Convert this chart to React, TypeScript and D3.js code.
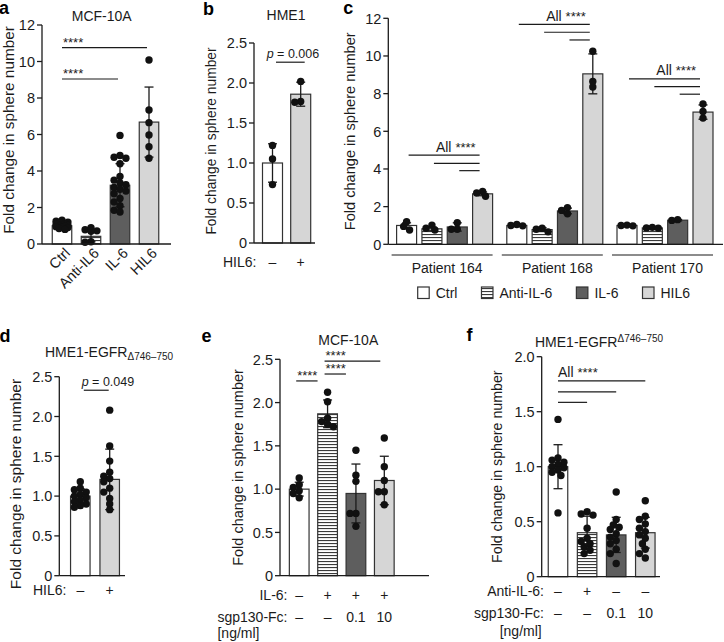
import React from "react";
import * as d3 from "d3";

const FONT = "'Liberation Sans', Arial, Helvetica, sans-serif";
const INK = "#1b1b1b";
const BAR_STROKE = "#333333";
const FILL: Record<string, string> = {
  white: "#ffffff",
  stripe: "url(#stripes)",
  dark: "#5e5e5e",
  light: "#d6d6d6",
};

// ---------- Panel a ----------
const aCategories = ["Ctrl", "Anti-IL6", "IL-6", "HIL6"];
const aFills = ["white", "stripe", "dark", "light"];
const aMeans = [1.0, 0.42, 3.22, 6.68];
const aSD = [0.15, 0.3, 1.18, 1.92];
const aPoints = [
  [1.3, 1.25, 1.2, 1.15, 1.1, 1.08, 1.05, 1.02, 1.0, 0.98, 0.95, 0.92, 0.9, 0.85, 0.8],
  [0.9, 0.78, 0.72, 0.7, 0.12, 0.1],
  [5.95, 4.85, 4.75, 4.7, 4.4, 3.7, 3.5, 3.35, 3.25, 3.1, 3.0, 2.9, 2.75, 2.5, 2.3, 2.1, 1.85, 1.75],
  [10.08, 7.34, 6.65, 5.97, 5.33, 4.7],
];
const aTicks = [0, 2, 4, 6, 8, 10, 12];
const aSig = [
  { from: 0, to: 3, y: 10.76, label: "****" },
  { from: 0, to: 2, y: 9.04, label: "****" },
];

// ---------- Panel b ----------
const bCategories = ["-", "+"];
const bFills = ["white", "light"];
const bMeans = [1.0, 1.86];
const bSD = [0.24, 0.15];
const bPoints = [
  [1.22, 1.05, 0.73],
  [2.02, 1.77, 1.76],
];
const bTicks = [0, 0.5, 1.0, 1.5, 2.0, 2.5];
const bRowValues = ["–", "+"];
const bP = { y: 2.26, text: "0.006" };

// ---------- Panel c ----------
const cGroups = ["Patient 164", "Patient 168", "Patient 170"];
const cSeries = ["Ctrl", "Anti-IL-6", "IL-6", "HIL6"];
const cFills = ["white", "stripe", "dark", "light"];
const cMeans = [
  [1.0, 0.82, 0.92, 2.68],
  [1.0, 0.78, 1.77, 9.05],
  [1.0, 0.87, 1.28, 7.02],
];
const cSD = [
  [0.14, 0.1, 0.22, 0.1],
  [0.05, 0.1, 0.15, 1.06],
  [0.03, 0.05, 0.04, 0.38],
];
const cPoints = [
  [[1.2, 0.95, 0.76], [1.02, 0.85, 0.76], [1.15, 0.8, 0.8], [2.8, 2.72, 2.55]],
  [[1.05, 1.0, 0.98], [0.85, 0.8, 0.66], [1.95, 1.8, 1.62], [10.25, 8.35, 8.65]],
  [[1.02, 1.0, 0.98], [0.9, 0.87, 0.85], [1.27, 1.31], [7.45, 6.7, 7.05]],
];
const cSigLevels = [
  [4.74, 4.3, 3.91],
  [11.68, 11.26, 10.85],
  [8.78, 8.37, 7.97],
];
const cTicks = [0, 2, 4, 6, 8, 10, 12];

// ---------- Panel d ----------
const dCategories = ["-", "+"];
const dFills = ["white", "light"];
const dMeans = [1.0, 1.21];
const dSD = [0.09, 0.38];
const dPoints = [
  [1.18, 1.1, 1.08, 1.05, 1.02, 1.0, 0.98, 0.95, 0.93, 0.9, 0.88, 0.86],
  [2.08, 1.63, 1.44, 1.3, 1.25, 1.22, 1.18, 1.1, 1.05, 0.97, 0.9, 0.83],
];
const dTicks = [0, 0.5, 1.0, 1.5, 2.0, 2.5];
const dRowValues = ["–", "+"];
const dP = { y: 2.33, text: "0.049" };

// ---------- Panel e ----------
const eCategories = ["c1", "c2", "c3", "c4"];
const eFills = ["white", "stripe", "dark", "light"];
const eMeans = [1.0, 1.87, 0.95, 1.1];
const eSD = [0.08, 0.16, 0.34, 0.28];
const ePoints = [
  [1.13, 1.05, 1.02, 0.98, 0.95, 0.9],
  [2.12, 2.01, 1.82, 1.78, 1.75, 1.72],
  [1.45, 1.16, 1.09, 0.72, 0.72, 0.57],
  [1.59, 1.26, 1.1, 0.97, 0.97, 0.82],
];
const eTicks = [0, 0.5, 1.0, 1.5, 2.0, 2.5];
const eSig = [
  { from: 1, to: 3, y: 2.48, label: "****" },
  { from: 1, to: 2, y: 2.33, label: "****" },
  { from: 0, to: 1, y: 2.25, label: "****" },
];
const eRowLabels = ["IL-6:", "sgp130-Fc:"];
const eRowValues = [
  ["–", "+", "+", "+"],
  ["–", "–", "0.1", "10"],
];

// ---------- Panel f ----------
const fCategories = ["c1", "c2", "c3", "c4"];
const fFills = ["white", "stripe", "dark", "light"];
const fMeans = [1.0, 0.4, 0.38, 0.4];
const fSD = [0.2, 0.15, 0.16, 0.14];
const fPoints = [
  [1.43, 1.08, 1.06, 1.04, 1.02, 1.0, 0.99, 0.97, 0.95, 0.92, 0.58],
  [0.59, 0.57, 0.56, 0.44, 0.35, 0.32, 0.3, 0.27, 0.24, 0.21],
  [0.77, 0.52, 0.47, 0.45, 0.43, 0.39, 0.36, 0.33, 0.3, 0.25, 0.21, 0.12],
  [0.69, 0.55, 0.52, 0.48, 0.44, 0.41, 0.38, 0.35, 0.3, 0.25, 0.21, 0.17],
];
const fTicks = [0, 0.5, 1.0, 1.5, 2.0];
const fSigLevels = [1.78, 1.68, 1.585];
const fRowLabels = ["Anti-IL-6:", "sgp130-Fc:"];
const fRowValues = [
  ["–", "+", "–", "–"],
  ["–", "–", "0.1", "10"],
];

const Y_TITLE = "Fold change in sphere number";
const R = 3.7;

function measure(text: string, size: number) {
  const ctx = document.createElement("canvas").getContext("2d");
  if (!ctx) return text.length * size * 0.55;
  ctx.font = `${size}px ${FONT}`;
  return ctx.measureText(text).width;
}

function swarm(values: number[], y: (v: number) => number, cx: number, half: number) {
  const order = values.map((_, i) => i).sort((a, b) => values[b] - values[a]);
  const placed: { x: number; y: number }[] = [];
  const out: { x: number; y: number }[] = new Array(values.length);
  const minD = R * 1.5;
  const step = R * 0.8;
  for (const i of order) {
    const py = y(values[i]);
    let best = cx;
    let bestD = -1;
    for (let k = 0; k < 14; k++) {
      const off = (k % 2 === 1 ? -1 : 1) * Math.ceil(k / 2) * step;
      if (Math.abs(off) > half) continue;
      const px = cx + off;
      let md = Infinity;
      for (const p of placed) md = Math.min(md, Math.hypot(p.x - px, p.y - py));
      if (md >= minD) {
        best = px;
        bestD = md;
        break;
      }
      if (md > bestD) {
        bestD = md;
        best = px;
      }
    }
    const pt = { x: best, y: py };
    placed.push(pt);
    out[i] = pt;
  }
  return out;
}

function YAxis({ x, y, ticks, fmt, fs = 14.5 }: any) {
  return (
    <g>
      <line x1={x} x2={x} y1={y(ticks[0])} y2={y(ticks[ticks.length - 1])} stroke={INK} strokeWidth={1.3} />
      {ticks.map((t: number) => (
        <g key={t}>
          <line x1={x - 5} x2={x} y1={y(t)} y2={y(t)} stroke={INK} strokeWidth={1.3} />
          <text x={x - 7} y={y(t)} dy="0.36em" textAnchor="end" fontSize={fs} fill={INK}>
            {fmt(t)}
          </text>
        </g>
      ))}
    </g>
  );
}

function XAxis({ x0, x1, y }: any) {
  return <line x1={x0} x2={x1} y1={y} y2={y} stroke={INK} strokeWidth={1.3} />;
}

function YTitle({ x, y, fs }: any) {
  return (
    <text transform={`translate(${x},${y}) rotate(-90)`} textAnchor="middle" fontSize={fs} fill={INK}>
      {Y_TITLE}
    </text>
  );
}

function Bars({ xs, y, means, sds, pts, fills, bw }: any) {
  const y0 = y(0);
  return (
    <g>
      {means.map((m: number, i: number) => (
        <rect
          key={"b" + i}
          x={xs[i] - bw / 2}
          y={y(m)}
          width={bw}
          height={y0 - y(m)}
          fill={FILL[fills[i]]}
          stroke={BAR_STROKE}
          strokeWidth={1.2}
        />
      ))}
      {means.map((m: number, i: number) => {
        const lo = Math.max(0, m - sds[i]);
        const hi = m + sds[i];
        return (
          <g key={"e" + i} stroke={INK} strokeWidth={1.3}>
            <line x1={xs[i]} x2={xs[i]} y1={y(lo)} y2={y(hi)} />
            <line x1={xs[i] - 4.5} x2={xs[i] + 4.5} y1={y(hi)} y2={y(hi)} />
            <line x1={xs[i] - 4.5} x2={xs[i] + 4.5} y1={y(lo)} y2={y(lo)} />
          </g>
        );
      })}
      {pts.map((vals: number[], i: number) =>
        swarm(vals, y, xs[i], bw / 2 - 1).map((p, j) => (
          <circle key={"p" + i + "_" + j} cx={p.x} cy={p.y} r={R} fill="#111" />
        ))
      )}
    </g>
  );
}

function Stars({ x, y, size = 13 }: any) {
  return (
    <text x={x} y={y} fontSize={size} fill={INK}>
      ****
    </text>
  );
}

const fmtInt = (t: number) => d3.format("d")(t);
const fmtDec = (t: number) => (t === 0 ? "0" : d3.format(".1f")(t));

export default function App() {
  // ----- a -----
  const ax = d3.scalePoint<string>().domain(aCategories).range([62, 149]);
  const ay = d3.scaleLinear().domain([0, 12]).range([244, 25]);
  const axs = aCategories.map((c) => ax(c) as number);

  // ----- b -----
  const bx = d3.scalePoint<string>().domain(bCategories).range([272.5, 300.7]);
  const by = d3.scaleLinear().domain([0, 2.5]).range([243, 43]);
  const bxs = bCategories.map((c) => bx(c) as number);

  // ----- c -----
  const cgx = d3.scalePoint<string>().domain(cGroups).range([444.6, 665]);
  const csx = d3.scalePoint<string>().domain(cSeries).range([-38, 38]);
  const cy = d3.scaleLinear().domain([0, 12]).range([244.3, 18.3]);

  // ----- d -----
  const dx = d3.scalePoint<string>().domain(dCategories).range([80.3, 109.7]);
  const dy = d3.scaleLinear().domain([0, 2.5]).range([575.7, 376.7]);
  const dxs = dCategories.map((c) => dx(c) as number);

  // ----- e -----
  const ex = d3.scalePoint<string>().domain(eCategories).range([299.2, 384.3]);
  const ey = d3.scaleLinear().domain([0, 2.5]).range([575.7, 359.3]);
  const exs = eCategories.map((c) => ex(c) as number);

  // ----- f -----
  const fx = d3.scalePoint<string>().domain(fCategories).range([558, 645.3]);
  const fy = d3.scaleLinear().domain([0, 2]).range([576.7, 356.7]);
  const fxs = fCategories.map((c) => fx(c) as number);

  // legend layout
  const legendItems: { x: number; label: string; fill: string }[] = [];
  let lx = 417.7;
  cSeries.forEach((s, i) => {
    legendItems.push({ x: lx, label: s, fill: cFills[i] });
    lx += 11.5 + 6.5 + measure(s, 14) + 24;
  });

  return (
    <svg
      width={724}
      height={642}
      viewBox="0 0 724 642"
      style={{ position: "absolute", left: 0, top: 0, background: "#fff" }}
      fontFamily={FONT}
    >
      <defs>
        <pattern id="stripes" patternUnits="userSpaceOnUse" width={6} height={3}>
          <rect width={6} height={3} fill="#ffffff" />
          <rect y={0} width={6} height={1.1} fill="#3a3a3a" />
        </pattern>
      </defs>
      <rect width={724} height={642} fill="#fff" />

      {/* ================= a ================= */}
      <text x={-1} y={14} fontSize={18} fontWeight="bold" fill="#000">a</text>
      <text x={101.7} y={21} textAnchor="middle" fontSize={14} fill={INK}>MCF-10A</text>
      <YTitle x={13.8} y={130} fs={15.3} />
      <YAxis x={42} y={ay} ticks={aTicks} fmt={fmtInt} />
      <Bars xs={axs} y={ay} means={aMeans} sds={aSD} pts={aPoints} fills={aFills} bw={19.5} />
      <XAxis x0={42} x1={171} y={ay(0)} />
      {aSig.map((s, i) => (
        <g key={i}>
          <line x1={axs[s.from]} x2={axs[s.to] - 2} y1={ay(s.y)} y2={ay(s.y)} stroke={INK} strokeWidth={1.2} />
          <Stars x={axs[s.from] + 1} y={ay(s.y) - 1} />
        </g>
      ))}
      {aCategories.map((c, i) => (
        <text
          key={c}
          transform={`translate(${axs[i] + 9},${254}) rotate(-45)`}
          textAnchor="end"
          fontSize={14.5}
          fill={INK}
        >
          {c}
        </text>
      ))}

      {/* ================= b ================= */}
      <text x={203} y={15} fontSize={18} fontWeight="bold" fill="#000">b</text>
      <text x={286} y={20} textAnchor="middle" fontSize={14} fill={INK}>HME1</text>
      <YTitle x={216} y={141} fs={13.8} />
      <YAxis x={254} y={by} ticks={bTicks} fmt={fmtDec} />
      <Bars xs={bxs} y={by} means={bMeans} sds={bSD} pts={bPoints} fills={bFills} bw={20} />
      <XAxis x0={254} x1={315} y={by(0)} />
      <line x1={bxs[0] + 3.5} x2={bxs[1] + 4} y1={by(bP.y)} y2={by(bP.y)} stroke={INK} strokeWidth={1.2} />
      <text x={266.7} y={by(bP.y) - 4.5} fontSize={12.5} fill={INK}>
        <tspan fontStyle="italic">p</tspan> = {bP.text}
      </text>
      <text x={223} y={266.7} fontSize={14} fill={INK}>HIL6:</text>
      {bRowValues.map((v, i) => (
        <text key={i} x={bxs[i]} y={266.7} textAnchor="middle" fontSize={14} fill={INK}>{v}</text>
      ))}

      {/* ================= c ================= */}
      <text x={343.3} y={14} fontSize={18} fontWeight="bold" fill="#000">c</text>
      <YTitle x={355} y={131.3} fs={14.6} />
      <YAxis x={388.3} y={cy} ticks={cTicks} fmt={fmtInt} />
      {cGroups.map((g, gi) => {
        const gc = cgx(g) as number;
        const xs = cSeries.map((s) => gc + (csx(s) as number));
        const levels = cSigLevels[gi];
        return (
          <g key={g}>
            <Bars xs={xs} y={cy} means={cMeans[gi]} sds={cSD[gi]} pts={cPoints[gi]} fills={cFills} bw={20} />
            {levels.map((lv, li) => (
              <line key={li} x1={xs[li] + 2} x2={xs[3] - 3} y1={cy(lv)} y2={cy(lv)} stroke={INK} strokeWidth={1.2} />
            ))}
            <text x={xs[1] + 4} y={cy(levels[0]) - 3.5} fontSize={14} fill={INK}>
              All <tspan fontSize={13}>****</tspan>
            </text>
            <line x1={gc - 53} x2={gc + 48} y1={255} y2={255} stroke={INK} strokeWidth={1.2} />
            <text x={gc + 2.5} y={273} textAnchor="middle" fontSize={14} fill={INK}>{g}</text>
          </g>
        );
      })}
      <XAxis x0={388.3} x1={723} y={cy(0)} />
      {legendItems.map((it) => (
        <g key={it.label}>
          <rect x={it.x} y={287} width={11.5} height={11.5} fill={FILL[it.fill]} stroke={BAR_STROKE} strokeWidth={1.2} />
          <text x={it.x + 18} y={297.5} fontSize={14} fill={INK}>{it.label}</text>
        </g>
      ))}

      {/* ================= d ================= */}
      <text x={-0.5} y={341.5} fontSize={18} fontWeight="bold" fill="#000">d</text>
      <text x={45} y={356.7} fontSize={14} fill={INK}>
        HME1-EGFR<tspan fontSize={10} dy={3}>Δ746–750</tspan>
      </text>
      <YTitle x={21} y={484} fs={15.5} />
      <YAxis x={59.3} y={dy} ticks={dTicks} fmt={fmtDec} />
      <Bars xs={dxs} y={dy} means={dMeans} sds={dSD} pts={dPoints} fills={dFills} bw={19.5} />
      <XAxis x0={59.3} x1={125} y={dy(0)} />
      <line x1={dxs[0] + 3.5} x2={dxs[1] - 1} y1={dy(dP.y)} y2={dy(dP.y)} stroke={INK} strokeWidth={1.2} />
      <text x={81.7} y={dy(dP.y) - 4.5} fontSize={12.5} fill={INK}>
        <tspan fontStyle="italic">p</tspan> = {dP.text}
      </text>
      <text x={33} y={595} fontSize={14} fill={INK}>HIL6:</text>
      {dRowValues.map((v, i) => (
        <text key={i} x={dxs[i]} y={595} textAnchor="middle" fontSize={14} fill={INK}>{v}</text>
      ))}

      {/* ================= e ================= */}
      <text x={201.5} y={342} fontSize={18} fontWeight="bold" fill="#000">e</text>
      <text x={348.3} y={345} textAnchor="middle" fontSize={14} fill={INK}>MCF-10A</text>
      <YTitle x={243} y={467.5} fs={14.5} />
      <YAxis x={280} y={ey} ticks={eTicks} fmt={fmtDec} />
      <Bars xs={exs} y={ey} means={eMeans} sds={eSD} pts={ePoints} fills={eFills} bw={19.7} />
      <XAxis x0={280} x1={429} y={ey(0)} />
      {eSig.map((s, i) => (
        <g key={i}>
          <line x1={exs[s.from] - 3} x2={exs[s.to] - (s.to - s.from === 1 ? 10 : 4)} y1={ey(s.y)} y2={ey(s.y)} stroke={INK} strokeWidth={1.2} />
          <Stars x={exs[s.from] - 2} y={ey(s.y) - 1} />
        </g>
      ))}
      {eRowLabels.map((lab, r) => (
        <g key={lab}>
          <text x={287.5} y={600 + r * 21.5} textAnchor="end" fontSize={14} fill={INK}>{lab}</text>
          {eRowValues[r].map((v, i) => (
            <text key={i} x={exs[i]} y={600 + r * 21.5} textAnchor="middle" fontSize={14} fill={INK}>{v}</text>
          ))}
        </g>
      ))}
      <text x={259.5} y={637.5} textAnchor="end" fontSize={14} fill={INK}>[ng/ml]</text>

      {/* ================= f ================= */}
      <text x={466.5} y={341} fontSize={18} fontWeight="bold" fill="#000">f</text>
      <text x={535} y={347} fontSize={14} fill={INK}>
        HME1-EGFR<tspan fontSize={10} dy={-5.5}>Δ746–750</tspan>
      </text>
      <YTitle x={501.5} y={466.7} fs={14.2} />
      <YAxis x={541.7} y={fy} ticks={fTicks} fmt={fmtDec} />
      <Bars xs={fxs} y={fy} means={fMeans} sds={fSD} pts={fPoints} fills={fFills} bw={19.5} />
      <XAxis x0={541.7} x1={660} y={fy(0)} />
      {fSigLevels.map((lv, li) => (
        <line key={li} x1={fxs[0]} x2={fxs[3 - li]} y1={fy(lv)} y2={fy(lv)} stroke={INK} strokeWidth={1.2} />
      ))}
      <text x={fxs[0]} y={fy(fSigLevels[0]) - 4} fontSize={14} fill={INK}>
        All <tspan fontSize={13}>****</tspan>
      </text>
      {fRowLabels.map((lab, r) => (
        <g key={lab}>
          <text x={544} y={595.5 + r * 22.5} textAnchor="end" fontSize={14} fill={INK}>{lab}</text>
          {fRowValues[r].map((v, i) => (
            <text key={i} x={fxs[i]} y={595.5 + r * 22.5} textAnchor="middle" fontSize={14} fill={INK}>{v}</text>
          ))}
        </g>
      ))}
      <text x={541.7} y={636} textAnchor="end" fontSize={14} fill={INK}>[ng/ml]</text>
    </svg>
  );
}
